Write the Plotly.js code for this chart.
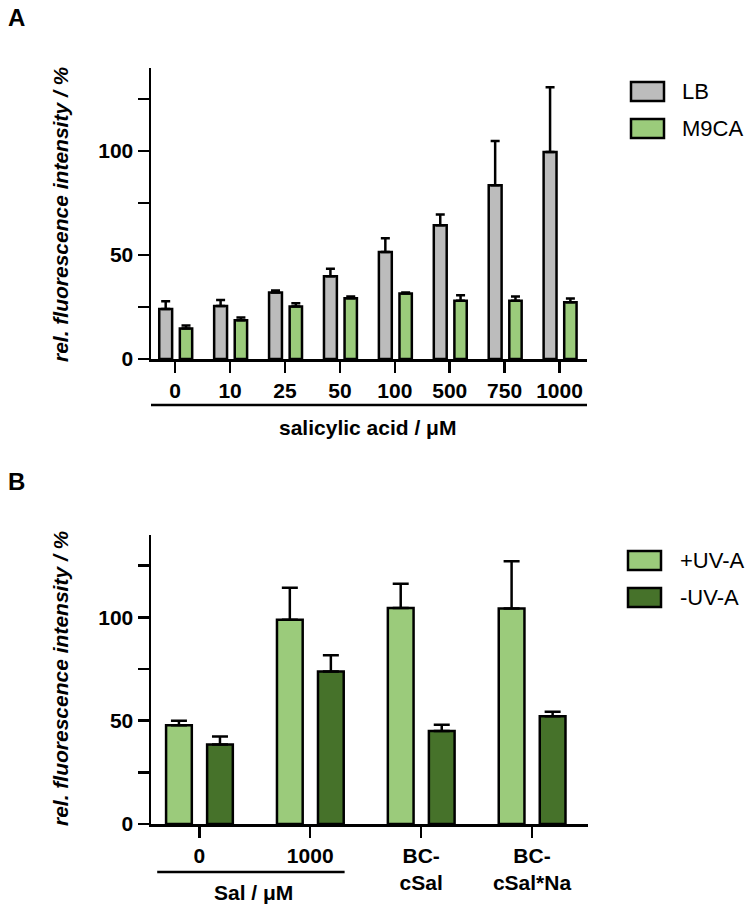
<!DOCTYPE html>
<html><head><meta charset="utf-8">
<script src="https://cdn.plot.ly/plotly-3.0.1.min.js"></script>
<style>body{margin:0;padding:0;background:#fff}#chart{width:747px;height:905px}</style>
</head><body><div id="chart"></div>
<script>
// ---- Panel A data ----
const categoriesA = ['0', '10', '25', '50', '100', '500', '750', '1000'];
const lbValues   = [24.0, 25.5, 32.0, 39.8, 51.5, 64.3, 83.5, 99.5];
const lbErrors   = [3.8, 2.9, 0.9, 3.6, 6.6, 5.2, 21.3, 31.2];
const m9caValues = [14.7, 18.6, 25.2, 29.2, 31.5, 28.0, 28.0, 27.3];
const m9caErrors = [1.4, 1.3, 1.6, 0.9, 0.5, 2.6, 2.1, 1.8];
const seriesNamesA = ['LB', 'M9CA'];

// ---- Panel B data ----
const categoriesB = ['0', '1000', 'BC-<br>cSal', 'BC-<br>cSal*Na'];
const uvPlusValues  = [47.8, 98.8, 104.5, 104.3];
const uvPlusErrors  = [2.2, 15.5, 11.8, 22.8];
const uvMinusValues = [38.5, 73.8, 45.0, 52.2];
const uvMinusErrors = [3.8, 7.9, 3.0, 2.1];
const seriesNamesB = ['+UV-A', '-UV-A'];

const yTickVals = [0, 25, 50, 75, 100, 125];
const yTickText = ['0', '', '50', '', '100', ''];

const W = 747, H = 905;
const px = x => x / W;
const py = y => 1 - y / H;

const GRAY = '#bcbcbc', LGREEN = '#9bcb7b', DGREEN = '#46722a';
const FONT = 'Liberation Sans, Arial, sans-serif';

function barTrace(cats, vals, errs, name, color, xa, ya, offset, width, capw) {
  return {
    type: 'bar', x: cats, y: vals, name: name, xaxis: xa, yaxis: ya,
    offset: offset, width: width, showlegend: false,
    marker: {color: color, line: {color: '#000', width: 2.5}},
    error_y: {type: 'data', symmetric: false, array: errs,
              arrayminus: errs.map(() => 0), thickness: 2.5, width: capw, color: '#000'}
  };
}

const data = [
  barTrace(categoriesA, lbValues, lbErrors, seriesNamesA[0], GRAY, 'x', 'y', -0.29, 0.235, 4.5),
  barTrace(categoriesA, m9caValues, m9caErrors, seriesNamesA[1], LGREEN, 'x', 'y', 0.085, 0.225, 4.5),
  barTrace(categoriesB, uvPlusValues, uvPlusErrors, seriesNamesB[0], LGREEN, 'x2', 'y2', -0.30, 0.232, 8),
  barTrace(categoriesB, uvMinusValues, uvMinusErrors, seriesNamesB[1], DGREEN, 'x2', 'y2', 0.07, 0.232, 8)
];

const tickFont = {family: FONT, size: 21, color: '#000', weight: 'bold'};
function xAxis(domain, range, anchor) {
  return {domain: domain, range: range, anchor: anchor, type: 'category',
    showline: true, linecolor: '#000', linewidth: 2.5, ticks: 'outside', ticklen: 11,
    tickwidth: 2.5, tickcolor: '#000', showgrid: false, zeroline: false,
    tickfont: tickFont, fixedrange: true, automargin: false};
}
function yAxis(domain, anchor) {
  return {domain: domain, range: [0, 140], anchor: anchor,
    showline: true, linecolor: '#000', linewidth: 2.5, ticks: 'outside', ticklen: 11,
    tickwidth: 2.5, tickcolor: '#000', showgrid: false, zeroline: false,
    tickmode: 'array', tickvals: yTickVals, ticktext: yTickText,
    tickfont: tickFont, fixedrange: true, automargin: false};
}

const layout = {
  width: W, height: H,
  margin: {l: 0, r: 0, t: 0, b: 0, pad: 0},
  paper_bgcolor: '#fff', plot_bgcolor: 'rgba(0,0,0,0)',
  showlegend: false,
  font: {family: FONT, color: '#000'},
  xaxis: xAxis([px(151), px(587)], [-0.44, 7.5], 'y'),
  yaxis: yAxis([py(359), py(67.8)], 'x'),
  xaxis2: xAxis([px(151), px(588)], [-0.436, 3.505], 'y2'),
  yaxis2: yAxis([py(824), py(534.7)], 'x2'),
  shapes: [
    {type: 'line', xref: 'paper', yref: 'paper', x0: px(151), x1: px(587), y0: py(405), y1: py(405),
     line: {color: '#000', width: 2.5}},
    {type: 'line', xref: 'x2', yref: 'paper', x0: -0.38, x1: 1.31, y0: py(872), y1: py(872),
     line: {color: '#000', width: 2.5}},
    {type: 'rect', xref: 'paper', yref: 'paper', x0: px(631), x1: px(664), y0: py(82), y1: py(101),
     fillcolor: GRAY, line: {color: '#000', width: 2.5}},
    {type: 'rect', xref: 'paper', yref: 'paper', x0: px(631), x1: px(664), y0: py(119), y1: py(138),
     fillcolor: LGREEN, line: {color: '#000', width: 2.5}},
    {type: 'rect', xref: 'paper', yref: 'paper', x0: px(628), x1: px(661), y0: py(551), y1: py(570),
     fillcolor: LGREEN, line: {color: '#000', width: 2.5}},
    {type: 'rect', xref: 'paper', yref: 'paper', x0: px(628), x1: px(661), y0: py(588), y1: py(607),
     fillcolor: DGREEN, line: {color: '#000', width: 2.5}}
  ],
  annotations: [
    {text: 'A', xref: 'paper', yref: 'paper', x: px(6), y: py(2), xanchor: 'left', yanchor: 'top',
     showarrow: false, font: {family: FONT, size: 24, weight: 'bold'}},
    {text: 'B', xref: 'paper', yref: 'paper', x: px(6), y: py(466), xanchor: 'left', yanchor: 'top',
     showarrow: false, font: {family: FONT, size: 24, weight: 'bold'}},
    {text: 'rel. fluorescence intensity / %', xref: 'paper', yref: 'paper', x: px(60), y: py(214),
     textangle: -90, showarrow: false, xanchor: 'center', yanchor: 'middle',
     font: {family: FONT, size: 21, weight: 'bold', style: 'italic'}},
    {text: 'rel. fluorescence intensity / %', xref: 'paper', yref: 'paper', x: px(60), y: py(678),
     textangle: -90, showarrow: false, xanchor: 'center', yanchor: 'middle',
     font: {family: FONT, size: 21, weight: 'bold', style: 'italic'}},
    {text: 'salicylic acid / μM', xref: 'paper', yref: 'paper', x: px(367), y: py(427),
     showarrow: false, xanchor: 'center', yanchor: 'middle',
     font: {family: FONT, size: 21, weight: 'bold'}},
    {text: 'Sal / μM', xref: 'paper', yref: 'paper', x: px(253), y: py(892),
     showarrow: false, xanchor: 'center', yanchor: 'middle',
     font: {family: FONT, size: 21, weight: 'bold'}},
    {text: seriesNamesA[0], xref: 'paper', yref: 'paper', x: px(680), y: py(91.5),
     showarrow: false, xanchor: 'left', yanchor: 'middle', font: {family: FONT, size: 22}},
    {text: seriesNamesA[1], xref: 'paper', yref: 'paper', x: px(680), y: py(128.5),
     showarrow: false, xanchor: 'left', yanchor: 'middle', font: {family: FONT, size: 22}},
    {text: seriesNamesB[0], xref: 'paper', yref: 'paper', x: px(678), y: py(560.5),
     showarrow: false, xanchor: 'left', yanchor: 'middle', font: {family: FONT, size: 22}},
    {text: seriesNamesB[1], xref: 'paper', yref: 'paper', x: px(678), y: py(597.5),
     showarrow: false, xanchor: 'left', yanchor: 'middle', font: {family: FONT, size: 22}}
  ]
};

Plotly.newPlot('chart', data, layout, {staticPlot: true, displayModeBar: false});
</script>
</body></html>
